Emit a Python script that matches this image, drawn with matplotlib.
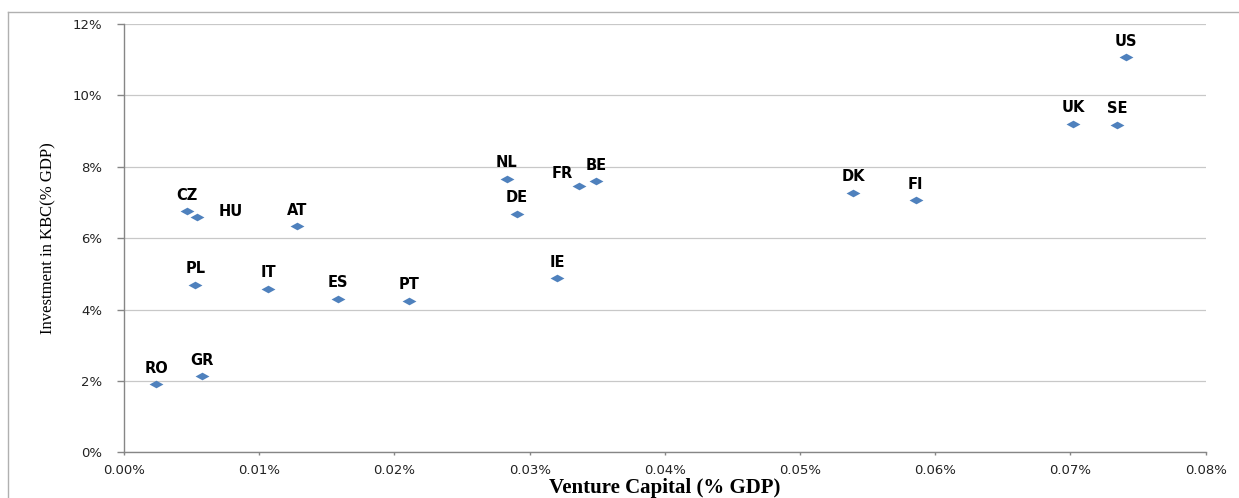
import matplotlib
matplotlib.use("Agg")
import matplotlib.pyplot as plt
from matplotlib.path import Path
from matplotlib.lines import Line2D
from matplotlib.ticker import FuncFormatter, MultipleLocator

# country codes, venture capital (% GDP) and investment in KBC (% GDP)
countries = ['CZ', 'HU', 'AT', 'PL', 'IT', 'ES', 'PT', 'RO', 'GR', 'NL',
             'DE', 'FR', 'BE', 'IE', 'US', 'UK', 'SE', 'DK', 'FI']
venture_capital = [0.00464, 0.00542, 0.01277, 0.00527, 0.01065, 0.01581, 0.02106,
                   0.00239, 0.00577, 0.02831, 0.02905, 0.03368, 0.03491, 0.03205,
                   0.07409, 0.07019, 0.07345, 0.05394, 0.05856]
kbc_investment = [6.75, 6.59, 6.33, 4.69, 4.58, 4.30, 4.25, 1.91, 2.13, 7.66,
                  6.69, 7.45, 7.60, 4.88, 11.07, 9.21, 9.18, 7.27, 7.06]

# label placement (pixels from the marker), default is straight above
label_offset = {'HU': (33, 6), 'FR': (-17, 13)}

fig = plt.figure(figsize=(12.39, 4.98), dpi=100)
ax = fig.add_axes([124 / 1239, 1 - 452.3 / 498, (1205.7 - 124) / 1239, (452.3 - 24) / 498])

# flattened diamond marker like the excel one
diamond = Path([(-1, 0), (0, 0.55), (1, 0), (0, -0.55), (-1, 0)],
               [Path.MOVETO, Path.LINETO, Path.LINETO, Path.LINETO, Path.CLOSEPOLY])
ax.plot(venture_capital, kbc_investment, linestyle='none', marker=diamond,
        markersize=10, color='#4F81BD', markeredgewidth=0, zorder=3)

for name, x, y in zip(countries, venture_capital, kbc_investment):
    dx, dy = label_offset.get(name, (0, 16))
    ax.annotate(name, (x, y), xytext=(dx, dy), textcoords='offset pixels',
                ha='center', va='center', fontsize=10.5, fontweight='bold',
                color='black', family='DejaVu Sans')

ax.set_xlim(0, 0.08)
ax.set_ylim(0, 12)
ax.xaxis.set_major_locator(MultipleLocator(0.01))
ax.yaxis.set_major_locator(MultipleLocator(2))
ax.xaxis.set_major_formatter(FuncFormatter(lambda v, p: f'{v:.2f}%'))
ax.yaxis.set_major_formatter(FuncFormatter(lambda v, p: f'{v:.0f}%'))

ax.grid(axis='y', color='#c8c8c8', linewidth=0.9)
ax.set_axisbelow(True)
for s in ['top', 'right']:
    ax.spines[s].set_visible(False)
for s in ['left', 'bottom']:
    ax.spines[s].set_color('#868686')
    ax.spines[s].set_linewidth(1.0)
ax.tick_params(axis='y', length=5, width=1, color='#868686', pad=10.5,
               labelsize=9.5, labelcolor='#222222')
ax.tick_params(axis='x', length=2.5, width=1, color='#868686', pad=6,
               labelsize=9.5, labelcolor='#222222')

ax.set_xlabel('Venture Capital (% GDP)', family='Liberation Serif',
              fontsize=15, fontweight='bold', labelpad=1)
ax.set_ylabel('Investment in KBC(% GDP)', family='Liberation Serif',
              fontsize=12, labelpad=12)

# chart area border
bx = 8.3 / 1239
by = 1 - 12 / 498
fig.add_artist(Line2D([bx, bx], [0, by], transform=fig.transFigure, color='#b0b0b0', linewidth=1))
fig.add_artist(Line2D([bx, 1], [by, by], transform=fig.transFigure, color='#b0b0b0', linewidth=1))

fig.savefig('out.png', dpi=100)
